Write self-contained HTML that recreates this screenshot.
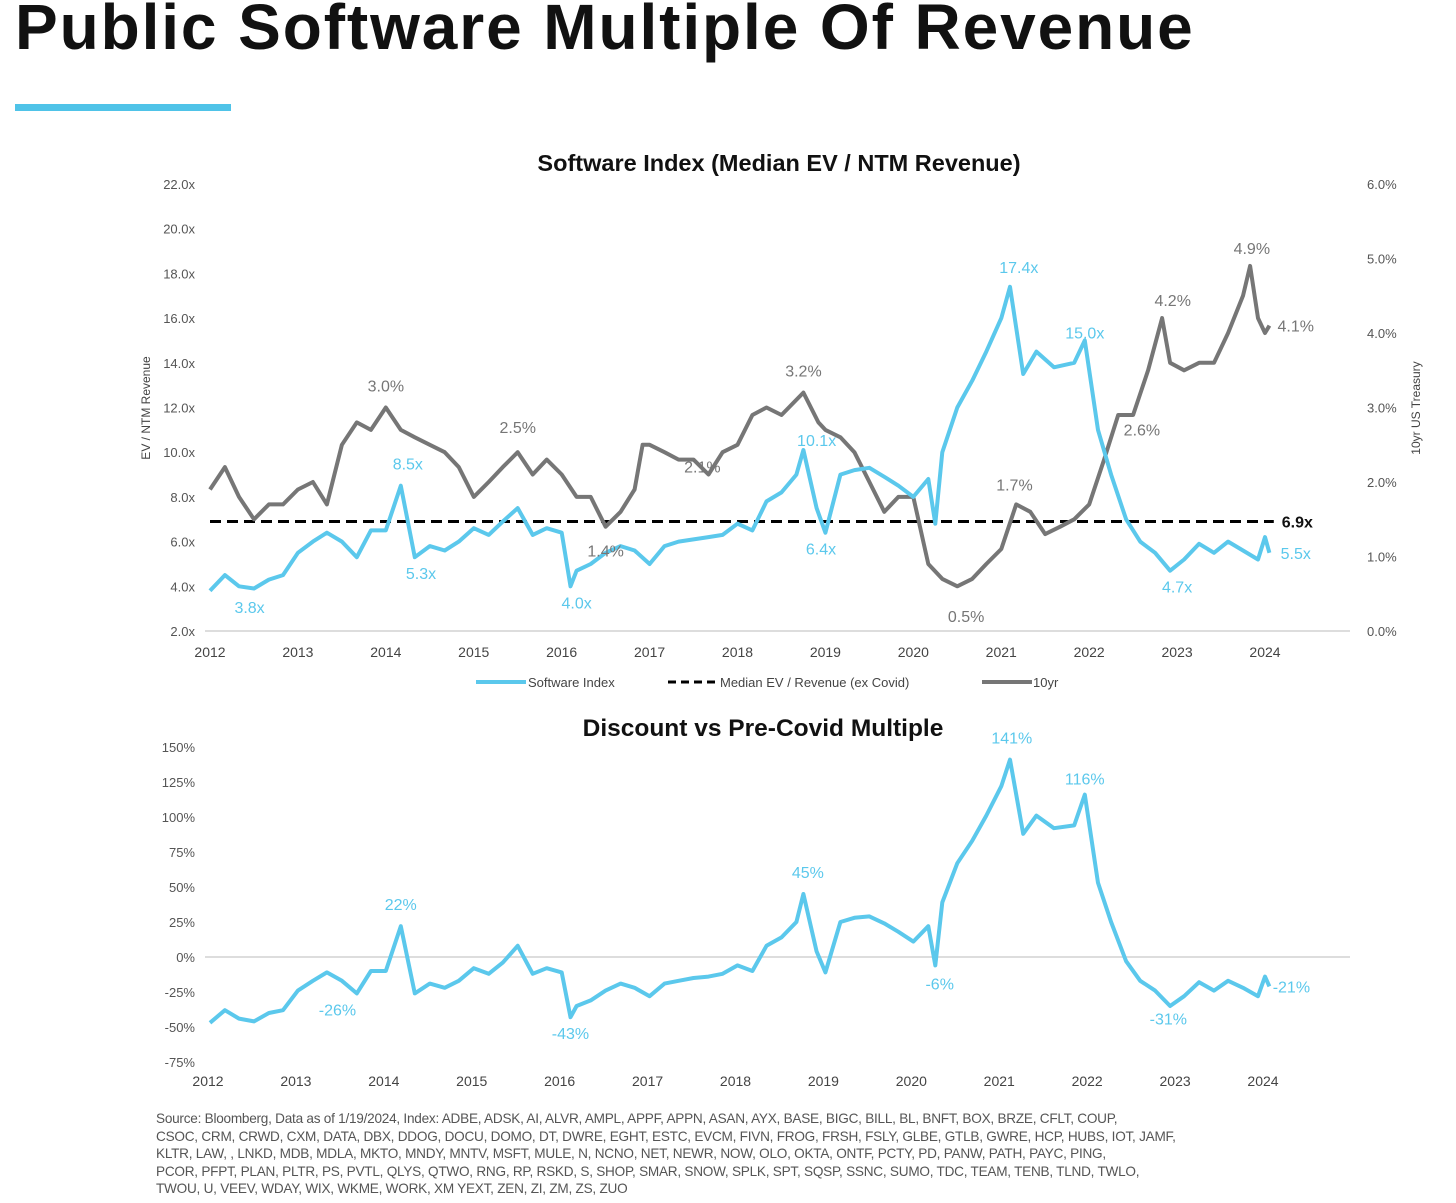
<!DOCTYPE html>
<html><head><meta charset="utf-8">
<style>
body{margin:0;background:#fff;width:1456px;height:1203px;overflow:hidden;font-family:"Liberation Sans",sans-serif;}
#title{position:absolute;left:15px;top:-10px;font-size:64px;font-weight:bold;color:#111;letter-spacing:1.9px;margin:0;white-space:nowrap}
#bar{position:absolute;left:15px;top:104px;width:216px;height:7px;background:#4fc3e8}
#src{position:absolute;left:156px;top:1110px;width:1100px;font-size:13.6px;line-height:17.5px;color:#555;letter-spacing:-0.25px;white-space:nowrap}
svg{position:absolute;left:0;top:0}
</style></head><body>
<h1 id="title">Public Software Multiple Of Revenue</h1>
<div id="bar"></div>
<svg id="chart" width="1456" height="1203"></svg>
<div id="src">Source: Bloomberg, Data as of 1/19/2024, Index: ADBE, ADSK, AI, ALVR, AMPL, APPF, APPN, ASAN, AYX, BASE, BIGC, BILL, BL, BNFT, BOX, BRZE, CFLT, COUP,<br>CSOC, CRM, CRWD, CXM, DATA, DBX, DDOG, DOCU, DOMO, DT, DWRE, EGHT, ESTC, EVCM, FIVN, FROG, FRSH, FSLY, GLBE, GTLB, GWRE, HCP, HUBS, IOT, JAMF,<br>KLTR, LAW, , LNKD, MDB, MDLA, MKTO, MNDY, MNTV, MSFT, MULE, N, NCNO, NET, NEWR, NOW, OLO, OKTA, ONTF, PCTY, PD, PANW, PATH, PAYC, PING,<br>PCOR, PFPT, PLAN, PLTR, PS, PVTL, QLYS, QTWO, RNG, RP, RSKD, S, SHOP, SMAR, SNOW, SPLK, SPT, SQSP, SSNC, SUMO, TDC, TEAM, TENB, TLND, TWLO,<br>TWOU, U, VEEV, WDAY, WIX, WKME, WORK, XM YEXT, ZEN, ZI, ZM, ZS, ZUO</div>
<script>
const years=[2012,2013,2014,2015,2016,2017,2018,2019,2020,2021,2022,2023,2024];
const leftTicks=[2,4,6,8,10,12,14,16,18,20,22];
const rightTicks=[0,1,2,3,4,5,6];
const discTicks=[-75,-50,-25,0,25,50,75,100,125,150];
const medianMultiple=6.9;
const idxT=[2012.0,2012.17,2012.33,2012.5,2012.67,2012.83,2013.0,2013.17,2013.33,2013.5,2013.67,2013.83,2014.0,2014.17,2014.33,2014.5,2014.67,2014.83,2015.0,2015.17,2015.33,2015.5,2015.67,2015.83,2016.0,2016.1,2016.17,2016.33,2016.5,2016.67,2016.83,2017.0,2017.17,2017.33,2017.5,2017.67,2017.83,2018.0,2018.17,2018.33,2018.5,2018.67,2018.75,2018.9,2019.0,2019.17,2019.33,2019.5,2019.67,2019.83,2020.0,2020.17,2020.25,2020.33,2020.5,2020.67,2020.83,2021.0,2021.1,2021.25,2021.4,2021.6,2021.83,2021.95,2022.1,2022.25,2022.42,2022.58,2022.75,2022.92,2023.08,2023.25,2023.42,2023.58,2023.75,2023.92,2024.0,2024.05];
const idxV=[3.8,4.5,4.0,3.9,4.3,4.5,5.5,6.0,6.4,6.0,5.3,6.5,6.5,8.5,5.3,5.8,5.6,6.0,6.6,6.3,6.9,7.5,6.3,6.6,6.4,4.0,4.7,5.0,5.5,5.8,5.6,5.0,5.8,6.0,6.1,6.2,6.3,6.8,6.5,7.8,8.2,9.0,10.1,7.5,6.4,9.0,9.2,9.3,8.9,8.5,8.0,8.8,6.8,10.0,12.0,13.2,14.5,16.0,17.4,13.5,14.5,13.8,14.0,15.0,11.0,9.0,7.0,6.0,5.5,4.7,5.2,5.9,5.5,6.0,5.6,5.2,6.2,5.5];
const discV=[-47,-38,-44,-46,-40,-38,-24,-17,-11,-17,-26,-10,-10,22,-26,-19,-22,-17,-8,-12,-4,8,-12,-8,-11,-43,-35,-31,-24,-19,-22,-28,-19,-17,-15,-14,-12,-6,-10,8,14,25,45,4,-11,25,28,29,24,18,11,22,-6,39,67,83,101,122,141,88,101,92,94,116,53,25,-3,-17,-24,-35,-28,-18,-24,-17,-22,-28,-14,-21];
const tyT=[2012.0,2012.17,2012.33,2012.5,2012.67,2012.83,2013.0,2013.17,2013.33,2013.5,2013.67,2013.83,2014.0,2014.17,2014.33,2014.5,2014.67,2014.83,2015.0,2015.17,2015.33,2015.5,2015.67,2015.83,2016.0,2016.17,2016.33,2016.5,2016.67,2016.83,2016.92,2017.0,2017.17,2017.33,2017.5,2017.67,2017.83,2018.0,2018.17,2018.33,2018.5,2018.75,2018.92,2019.0,2019.17,2019.33,2019.5,2019.67,2019.83,2020.0,2020.17,2020.33,2020.5,2020.67,2020.83,2021.0,2021.17,2021.33,2021.5,2021.67,2021.83,2022.0,2022.17,2022.33,2022.5,2022.67,2022.83,2022.92,2023.08,2023.25,2023.42,2023.58,2023.75,2023.83,2023.92,2024.0,2024.05];
const tyV=[1.9,2.2,1.8,1.5,1.7,1.7,1.9,2.0,1.7,2.5,2.8,2.7,3.0,2.7,2.6,2.5,2.4,2.2,1.8,2.0,2.2,2.4,2.1,2.3,2.1,1.8,1.8,1.4,1.6,1.9,2.5,2.5,2.4,2.3,2.3,2.1,2.4,2.5,2.9,3.0,2.9,3.2,2.8,2.7,2.6,2.4,2.0,1.6,1.8,1.8,0.9,0.7,0.6,0.7,0.9,1.1,1.7,1.6,1.3,1.4,1.5,1.7,2.3,2.9,2.9,3.5,4.2,3.6,3.5,3.6,3.6,4.0,4.5,4.9,4.2,4.0,4.1];
const idxLabels=[[2012.45,3.8,"3.8x",22],[2014.25,8.5,"8.5x",-16],[2014.4,5.3,"5.3x",22],[2016.17,4.0,"4.0x",22],[2018.9,10.1,"10.1x",-4],[2018.95,6.4,"6.4x",22],[2021.2,17.4,"17.4x",-14],[2021.95,15.0,"15.0x",-2],[2023.0,4.7,"4.7x",22],[2024.35,5.5,"5.5x",6]];
const tyLabels=[[2014.0,3.0,"3.0%",-16],[2015.5,2.5,"2.5%",-12],[2016.5,1.4,"1.4%",30],[2017.6,2.1,"2.1%",-2],[2018.75,3.2,"3.2%",-16],[2020.6,0.5,"0.5%",28],[2021.15,1.7,"1.7%",-14],[2022.6,2.6,"2.6%",-2],[2022.95,4.2,"4.2%",-12],[2023.85,4.9,"4.9%",-12],[2024.35,4.1,"4.1%",6]];
const discLabels=[[2014.17,22,"22%",-16],[2013.45,-26,"-26%",22],[2016.1,-43,"-43%",22],[2018.8,45,"45%",-16],[2020.3,-6,"-6%",24],[2021.12,141,"141%",-16],[2021.95,116,"116%",-10],[2022.9,-31,"-31%",24],[2024.3,-21,"-21%",6]];

const svg=document.getElementById('chart');
const NS='http://www.w3.org/2000/svg';
function mk(tag,attrs,parent){const e=document.createElementNS(NS,tag);for(const k in attrs)e.setAttribute(k,attrs[k]);(parent||svg).appendChild(e);return e;}
function txt(x,y,s,attrs,parent){const e=mk('text',Object.assign({x:x,y:y},attrs),parent);e.textContent=s;return e;}
const X=t=>210+(t-2012)*(1265-210)/12;
const YL=v=>631-(v-2)*(631-184)/20;
const YR=v=>631-v*(631-184)/6;
const YD=v=>957-v*(957-747)/150;
const BLUE='#5bc8ec',GRAY='#767676';

const topG=mk('g',{});


txt(779,171,"Software Index (Median EV / NTM Revenue)",{'font-size':23.5,'font-weight':'bold','text-anchor':'middle',fill:'#111'},topG);
mk('line',{x1:205,x2:1350,y1:631,y2:631,stroke:'#ddd','stroke-width':2},topG);
leftTicks.forEach(v=>{const e=txt(195,YL(v)+5,v.toFixed(1)+'x',{'font-size':13,'text-anchor':'end',fill:'#555'},topG);});
rightTicks.forEach(v=>{const e=txt(1367,YR(v)+5,v.toFixed(1)+'%',{'font-size':13,fill:'#555'},topG);});
years.forEach(y=>{const e=txt(X(y),657,y,{'font-size':14,'text-anchor':'middle',fill:'#444'},topG);});
const ya=txt(0,0,'EV / NTM Revenue',{'font-size':12,'text-anchor':'middle',fill:'#444',transform:'translate(150,408) rotate(-90)'},topG);
const yb=txt(0,0,'10yr US Treasury',{'font-size':12,'text-anchor':'middle',fill:'#444',transform:'translate(1420,408) rotate(-90)'},topG);
const med=mk('line',{x1:X(2012),x2:X(2024.1),y1:YL(medianMultiple),y2:YL(medianMultiple),stroke:'#000','stroke-width':3,'stroke-dasharray':'11,6'},topG);

const ml=txt(X(2024.1)+8,YL(medianMultiple)+6,medianMultiple.toFixed(1)+'x',{'font-size':16,'font-weight':'bold',fill:'#111'},topG);
const tyPath=mk('path',{d:tyT.map((t,i)=>(i?'L':'M')+X(t).toFixed(1)+','+YR(tyV[i]).toFixed(1)).join(''),fill:'none',stroke:GRAY,'stroke-width':4,'stroke-linejoin':'round'},topG);


const idxPath=mk('path',{d:idxT.map((t,i)=>(i?'L':'M')+X(t).toFixed(1)+','+YL(idxV[i]).toFixed(1)).join(''),fill:'none',stroke:BLUE,'stroke-width':4,'stroke-linejoin':'round'},topG);


idxLabels.forEach(l=>{const e=txt(X(l[0]),YL(l[1])+l[3],l[2],{'font-size':16,'text-anchor':'middle',fill:BLUE},topG);});
tyLabels.forEach(l=>{const e=txt(X(l[0]),YR(l[1])+l[3],l[2],{'font-size':16,'text-anchor':'middle',fill:GRAY},topG);});
const lg=mk('g',{},topG);
mk('line',{x1:476,x2:526,y1:682,y2:682,stroke:BLUE,'stroke-width':4},lg);
txt(528,687,'Software Index',{'font-size':13,fill:'#444'},lg);
mk('line',{x1:668,x2:718,y1:682,y2:682,stroke:'#000','stroke-width':3,'stroke-dasharray':'8,5'},lg);
txt(720,687,'Median EV / Revenue (ex Covid)',{'font-size':13,fill:'#444'},lg);
mk('line',{x1:982,x2:1032,y1:682,y2:682,stroke:GRAY,'stroke-width':4},lg);
txt(1033,687,'10yr',{'font-size':13,fill:'#444'},lg);

const bot=mk('g',{});


txt(763,736,"Discount vs Pre-Covid Multiple",{'font-size':24.5,'font-weight':'bold','text-anchor':'middle',fill:'#111'},bot);
mk('line',{x1:205,x2:1350,y1:YD(0),y2:YD(0),stroke:'#ddd','stroke-width':2},bot);
discTicks.forEach(v=>{const e=txt(195,YD(v)+5,v+'%',{'font-size':13,'text-anchor':'end',fill:'#555'},bot);});
years.forEach(y=>{const e=txt(X(y)-2,1086,y,{'font-size':14,'text-anchor':'middle',fill:'#444'},bot);});
const dPath=mk('path',{d:idxT.map((t,i)=>(i?'L':'M')+X(t).toFixed(1)+','+YD(discV[i]).toFixed(1)).join(''),fill:'none',stroke:BLUE,'stroke-width':4,'stroke-linejoin':'round'},bot);


discLabels.forEach(l=>{const e=txt(X(l[0]),YD(l[1])+l[3],l[2],{'font-size':16,'text-anchor':'middle',fill:BLUE},bot);});
</script>
</body></html>
